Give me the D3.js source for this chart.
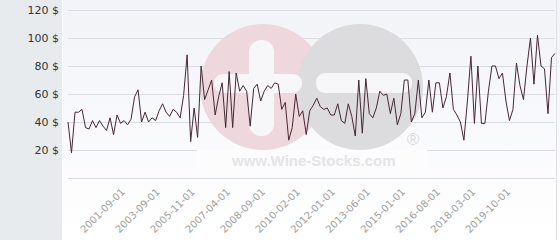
<!DOCTYPE html>
<html lang="en">
<head>
<meta charset="UTF-8">
<title>Wine price history</title>
<script src="https://cdn.jsdelivr.net/npm/d3@7"></script>
<style>
  html, body { margin: 0; padding: 0; background: #fff; }
  svg { display: block; }
</style>
</head>
<body>
<div id="chart"></div>
<script>
// price per auction (category axis, evenly spaced)
var prices = [
  40, 18, 47, 47, 49, 36, 35, 41, 36, 41, 37, 34, 43, 31, 45, 39, 41, 38, 42, 58,
  63, 40, 47, 40, 43, 41, 48, 53, 47, 44, 49, 47, 43, 59, 88, 26,
  50, 29, 80, 56, 63, 70, 45, 58, 68, 36, 76, 36, 75, 62, 66, 62, 37, 64, 67, 55,
  62, 66, 64, 68, 67, 49, 54, 27, 36, 60, 44, 48, 31, 48, 52,
  57, 51, 49, 50, 45, 45, 53, 41, 39, 53, 44, 30, 70, 32, 71, 46, 43, 50, 62, 59,
  60, 46, 57, 38, 46, 70, 70, 40, 46, 70, 43, 47,
  70, 47, 68, 68, 50, 58, 75, 49, 45, 40, 27, 55, 87, 39, 80, 39, 39, 62, 80, 80,
  71, 75, 55, 41, 49, 82, 66, 56, 80, 100, 67, 102, 80, 78, 46, 86, 89
];

// x axis labels and the point they sit under
var tickLabels = ["2001-09-01", "2003-09-01", "2005-11-01", "2007-04-01", "2008-09-01", "2010-02-01",
                  "2012-01-01", "2013-06-01", "2015-01-01", "2016-08-01", "2018-03-01", "2019-10-01"];
var tickIndex = [16, 26, 36, 46, 56, 66, 76, 86, 96, 106, 116, 126];

var yTicks = [0, 20, 40, 60, 80, 100, 120];

var width = 560, height = 240;
var svg = d3.select("#chart").append("svg")
  .attr("width", width).attr("height", height)
  .style("font-family", "'DejaVu Sans', sans-serif");

var defs = svg.append("defs");
var grad = defs.append("linearGradient").attr("id", "bg").attr("x1", 0).attr("y1", 0).attr("x2", 0).attr("y2", 1);
grad.append("stop").attr("offset", "0%").attr("stop-color", "#f2f3f8");
grad.append("stop").attr("offset", "100%").attr("stop-color", "#ffffff");

// backgrounds
svg.append("rect").attr("x", 63).attr("y", 0).attr("width", width - 63).attr("height", height).attr("fill", "url(#bg)");
svg.append("rect").attr("x", 0).attr("y", 0).attr("width", 62).attr("height", height).attr("fill", "#e7ebee");
svg.append("line").attr("x1", 556.5).attr("x2", 556.5).attr("y1", 0).attr("y2", height)
  .attr("stroke", "#e2e2e6");

var x = d3.scalePoint().domain(d3.range(prices.length)).range([68, 555]);
var y = d3.scaleLinear().domain([0, 120]).range([178, 10]);

// grid
svg.append("g").selectAll("line").data(yTicks).enter().append("line")
  .attr("x1", 68).attr("x2", 555)
  .attr("y1", d => Math.round(y(d)) + 0.5).attr("y2", d => Math.round(y(d)) + 0.5)
  .attr("stroke", "#dcdde3");

// watermark
var wm = svg.append("g");
wm.append("circle").attr("cx", 263).attr("cy", 87).attr("r", 63).attr("fill", "#eed8dd");
wm.append("circle").attr("cx", 360).attr("cy", 87).attr("r", 63).attr("fill", "#dcdcde");
wm.append("rect").attr("x", 249).attr("y", 40).attr("width", 25).attr("height", 96).attr("rx", 12).attr("fill", "#f7f7fa");
wm.append("rect").attr("x", 214).attr("y", 74).attr("width", 88).attr("height", 19).attr("rx", 9).attr("fill", "#f7f7fa");
wm.append("rect").attr("x", 316).attr("y", 73).attr("width", 96).attr("height", 20).attr("rx", 9).attr("fill", "#f7f7fa");
wm.append("rect").attr("x", 197).attr("y", 150).attr("width", 230).attr("height", 22).attr("fill", "#fcfcfd");
wm.append("text").attr("x", 232).attr("y", 166).text("www.Wine-Stocks.com")
  .style("font-family", "'Liberation Sans', Arial, sans-serif").style("font-weight", "bold")
  .style("font-size", "15px").attr("fill", "#e4e4e6");
wm.append("text").attr("x", 413).attr("y", 145).attr("text-anchor", "middle").text("\u00AE")
  .style("font-family", "'Liberation Sans', Arial, sans-serif").style("font-size", "17px").attr("fill", "#dadadc");

// y labels
svg.append("g").selectAll("text").data(yTicks.filter(d => d > 0)).enter().append("text")
  .attr("x", 59).attr("y", d => y(d)).attr("dy", "0.35em").attr("text-anchor", "end")
  .style("font-size", "11px").attr("fill", "#333")
  .text(d => d + " $");

// x labels
svg.append("g").selectAll("text").data(tickLabels).enter().append("text")
  .attr("transform", (d, i) => `translate(${x(tickIndex[i]) - 1},${190}) rotate(-45)`)
  .attr("text-anchor", "end").attr("dy", "0.35em")
  .style("font-size", "10px").attr("fill", "#a0a0a0")
  .text(d => d);

// price line
var line = d3.line().x((d, i) => x(i)).y(d => y(d));
svg.append("path").datum(prices)
  .attr("d", line)
  .attr("fill", "none").attr("stroke", "#452834").attr("stroke-width", 1);
</script>
</body>
</html>
